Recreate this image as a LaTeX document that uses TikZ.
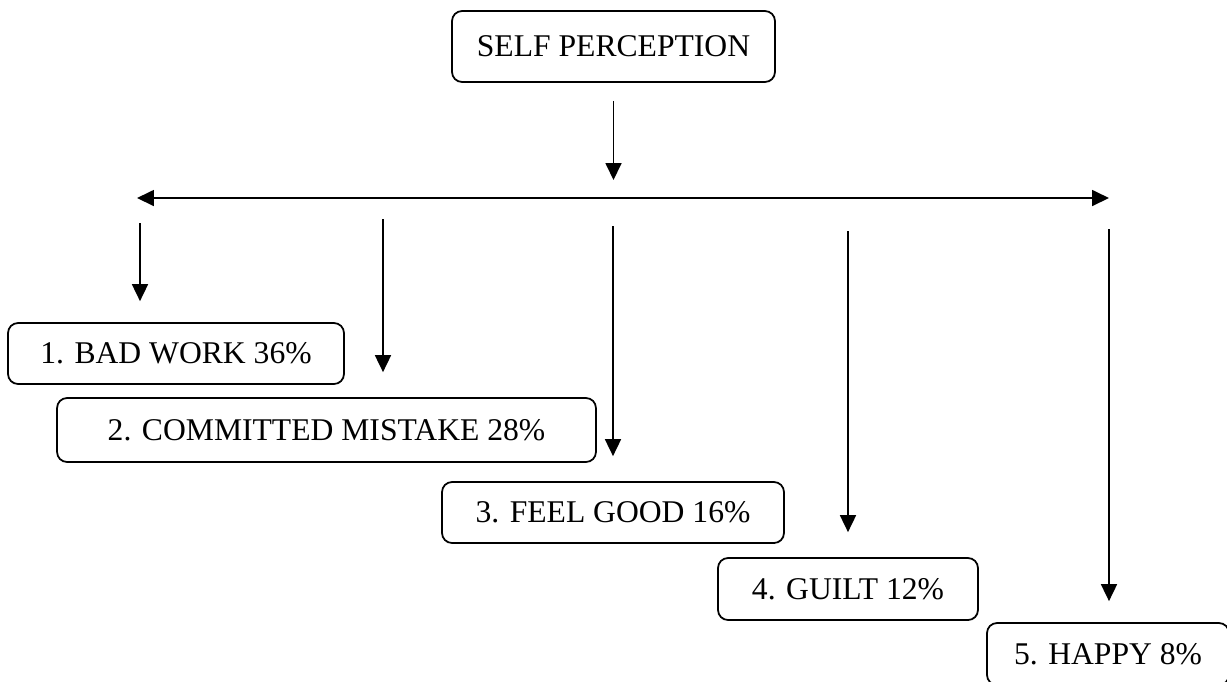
\documentclass[tikz,border=0pt]{standalone}
\usepackage{fontspec}
\setmainfont{Liberation Serif}
\usetikzlibrary{arrows.meta, positioning}

\begin{document}
\begin{tikzpicture}[x=0.02cm, y=-0.02cm,
    stage/.style={draw, line width=1pt, rounded corners=0.2cm, inner sep=0pt, font=\fontsize{18}{22}\selectfont},
    arr/.style={line width=1pt, -{Triangle[length=0.34cm, width=0.32cm]}}]
  \useasboundingbox (0,0) rectangle (1227,681);

  % Top box
  \node[stage, minimum width=6.46cm, minimum height=1.42cm] (self) at (613.5,46.5) {SELF PERCEPTION};

  % Result boxes
  \node[stage, minimum width=6.72cm, minimum height=1.22cm] (bad) at (176,353.5) {1. BAD WORK 36\%};
  \node[stage, minimum width=10.78cm, minimum height=1.28cm] (mistake) at (326.5,430) {2. COMMITTED MISTAKE 28\%};
  \node[stage, minimum width=6.84cm, minimum height=1.22cm] (good) at (613,512.5) {3. FEEL GOOD 16\%};
  \node[stage, minimum width=5.2cm, minimum height=1.24cm] (guilt) at (848,589) {4. GUILT 12\%};
  \node[stage, minimum width=4.84cm, minimum height=1.24cm] (happy) at (1108,654) {5. HAPPY 8\%};

  % Horizontal bar
  \coordinate (barL) at (137,198);
  \coordinate (barR) at (1109,198);
  \draw[line width=1pt, {Triangle[length=0.34cm, width=0.32cm]}-{Triangle[length=0.34cm, width=0.32cm]}] (barL) -- (barR);
  \draw[arr, shorten <=0.36cm, shorten >=0.36cm] (self) -- (self |- barL);

  % Arrow starts
  \coordinate (s1) at (140,223);
  \coordinate (s2) at (383,219);
  \coordinate (s3) at (613,226);
  \coordinate (s4) at (848,231);
  \coordinate (s5) at (1109,229);

  % Arrows
  \draw[arr, shorten >=0.42cm] (s1) -- (s1 |- bad.north);
  \draw[arr, shorten >=0.5cm] (s2) -- (s2 |- mistake.north);
  \draw[arr, shorten >=0.5cm] (s3) -- (s3 |- good.north);
  \draw[arr, shorten >=0.5cm] (s4) -- (s4 |- guilt.north);
  \draw[arr, shorten >=0.42cm] (s5) -- (s5 |- happy.north);
\end{tikzpicture}
\end{document}
